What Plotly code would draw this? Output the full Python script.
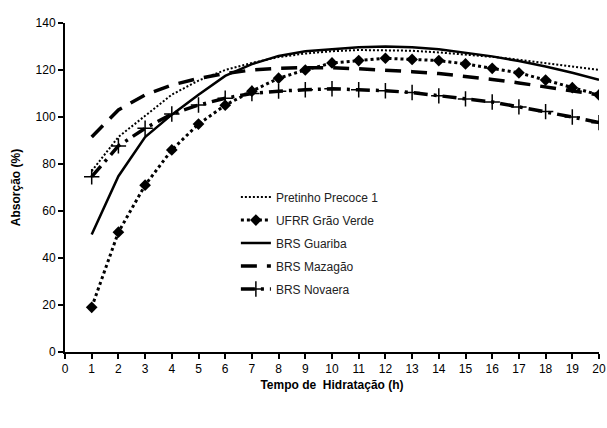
import plotly.graph_objects as go

hours = list(range(1, 21))
x_ticks = list(range(0, 21))
y_ticks = list(range(0, 141, 20))

pretinho = [77, 91.5, 100.5, 109.5, 115.5, 120, 123, 125.5, 127, 128, 128.5, 128.5, 128.2, 127.5, 126.7, 125.6, 124.4, 123, 121.5, 120]
ufrr = [19, 51, 71, 86, 97, 105, 111, 116.5, 120, 123, 124, 125, 124.5, 124, 122.6, 120.7, 118.8, 115.7, 112.5, 109.4]
guariba = [50, 74.8, 91.5, 101, 109.5, 117.5, 122.5, 126, 128, 129, 129.7, 130, 129.7, 128.8, 127.3, 125.8, 123.8, 121.5, 118.8, 115.8]
mazagao = [91.5, 103, 109.4, 113.6, 116.4, 118.5, 120, 120.7, 121, 121, 120.5, 120, 119.3, 118.5, 117.3, 116, 114.5, 112.8, 111, 109.4]
novaera = [74.6, 87.7, 95.2, 101.3, 105.1, 108, 110, 111, 111.6, 112, 111.6, 111.2, 110.4, 109, 107.7, 106.4, 104.3, 102.3, 100, 97.6]

names = ["Pretinho Precoce 1", "UFRR Grão Verde", "BRS Guariba", "BRS Mazagão", "BRS Novaera"]

fig = go.Figure()
fig.add_trace(go.Scatter(x=hours, y=pretinho, name=names[0], mode="lines",
                         line=dict(color="black", width=2, dash="2px,2px"), legendgroup="a"))
fig.add_trace(go.Scatter(x=hours, y=ufrr, name=names[1], mode="lines+markers",
                         line=dict(color="black", width=3, dash="3px,3px"),
                         marker=dict(symbol="diamond", size=9, color="black"), legendgroup="b"))
fig.add_trace(go.Scatter(x=hours, y=guariba, name=names[2], mode="lines",
                         line=dict(color="black", width=2.5), legendgroup="c"))
fig.add_trace(go.Scatter(x=hours, y=mazagao, name=names[3], mode="lines",
                         line=dict(color="black", width=3.5, dash="16px,10px"), legendgroup="d"))
fig.add_trace(go.Scatter(x=hours, y=novaera, name=names[4], mode="lines+markers",
                         line=dict(color="black", width=3.5, dash="14px,6px,3px,6px"),
                         marker=dict(symbol="cross-thin", size=11, color="black",
                                     line=dict(color="black", width=1.5)), legendgroup="e"))

font_family = "Liberation Sans, Arial, sans-serif"
fig.update_layout(
    width=607, height=428,
    margin=dict(l=65, r=8, t=23, b=76),
    paper_bgcolor="white", plot_bgcolor="white",
    font=dict(family=font_family, size=12, color="black"),
    showlegend=True,
    legend=dict(x=0.32, y=0.515, xanchor="left", yanchor="top",
                bgcolor="rgba(0,0,0,0)", font=dict(size=12, color="#222"),
                tracegroupgap=4),
    xaxis=dict(range=[0, 20], tickmode="array", tickvals=x_ticks,
               ticktext=[str(v) for v in x_ticks], automargin=False,
               ticklabeloverflow="allow",
               showgrid=False, zeroline=False, showline=True, linecolor="black", linewidth=2,
               ticks="outside", ticklen=5, tickwidth=2, tickcolor="black",
               tickfont=dict(size=12, color="black"),
               title=dict(text="<b>Tempo de\u00a0\u00a0Hidratação (h)</b>", font=dict(size=12), standoff=5)),
    yaxis=dict(range=[0, 140], tickmode="array", tickvals=y_ticks,
               ticktext=[str(v) for v in y_ticks], automargin=False,
               showgrid=False, zeroline=False, showline=True, linecolor="black", linewidth=2,
               ticks="outside", ticklen=5, tickwidth=2, tickcolor="black",
               tickfont=dict(size=12, color="black"),
               title=dict(text="<b>Absorção (%)</b>", font=dict(size=12), standoff=12)),
)

fig.write_html("out.html", config={"displayModeBar": False},
               post_script="document.body.style.margin='0px';document.body.style.overflow='hidden';")
